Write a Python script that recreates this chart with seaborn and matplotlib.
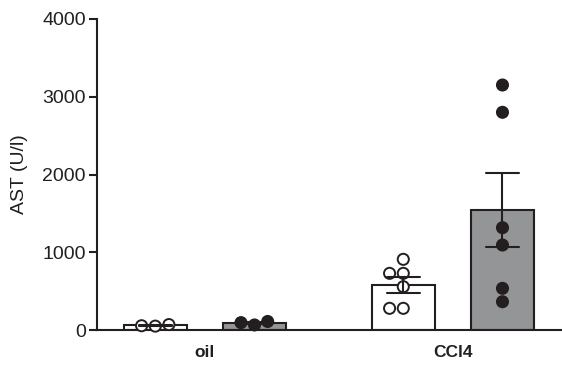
import numpy as np
import pandas as pd
import matplotlib
matplotlib.use('Agg')
import matplotlib.pyplot as plt
import seaborn as sns

# values (U/l)
treatments = ['oil', 'CCl4']
groups = ['ctrl', 'ko']
oil_ctrl = [70, 50, 55]
oil_ko = [110, 65, 95]
ccl4_ctrl = [909, 729, 729, 557, 279, 279]
ccl4_ko = [3151, 2800, 1316, 1093, 536, 364]

yticks = [0, 1000, 2000, 3000, 4000]

rows = []
for treat, grp, vals in [('oil', 'ctrl', oil_ctrl), ('oil', 'ko', oil_ko),
                         ('CCl4', 'ctrl', ccl4_ctrl), ('CCl4', 'ko', ccl4_ko)]:
    for v in vals:
        rows.append({'treatment': treat, 'group': grp, 'AST': v})
df = pd.DataFrame(rows)

# Settings
INK = '#231f20'
GREY = '#939598'
LW = 1.5

sns.set_style('white')
plt.rcParams['font.family'] = ['Liberation Sans', 'DejaVu Sans']

fig = plt.figure(figsize=(5.62, 3.74), dpi=100)
ax = fig.add_axes([0.1726, 0.1176, 0.8274, 0.8316])

sns.barplot(data=df, x='treatment', y='AST', hue='group', order=treatments,
            hue_order=groups, palette={'ctrl': 'white', 'ko': GREY},
            errorbar='se', width=0.8, gap=0.365, capsize=0.27,
            edgecolor=INK, linewidth=LW,
            err_kws={'color': INK, 'linewidth': LW},
            legend=False, ax=ax)

sns.swarmplot(data=df, x='treatment', y='AST', hue='group', order=treatments,
              hue_order=groups, palette={'ctrl': 'white', 'ko': INK},
              dodge=True, size=8, edgecolor=INK, linewidth=1.4,
              legend=False, ax=ax, clip_on=False, zorder=4)

# error bars on top of the points, as in the original
for ln in ax.lines:
    ln.set_zorder(5)

ax.set_ylim(0, 4000)
ax.set_xlim(-0.435, 1.44)
ax.set_yticks(yticks)
ax.set_yticklabels([str(t) for t in yticks], fontsize=14, color=INK)
ax.set_xticks([0, 1])
ax.set_xticklabels(['oil', 'CCl4'], fontsize=12.5, fontweight='bold', color=INK)
ax.set_xlabel('')
ax.set_ylabel('AST (U/l)', fontsize=14, color=INK, labelpad=10)

for side in ['top', 'right']:
    ax.spines[side].set_visible(False)
for side in ['left', 'bottom']:
    ax.spines[side].set_linewidth(LW)
    ax.spines[side].set_color(INK)

ax.tick_params(axis='y', direction='out', length=6, width=LW, color=INK, pad=2, left=True)
ax.tick_params(axis='x', length=0, pad=11)

fig.savefig('out.png', dpi=100)
